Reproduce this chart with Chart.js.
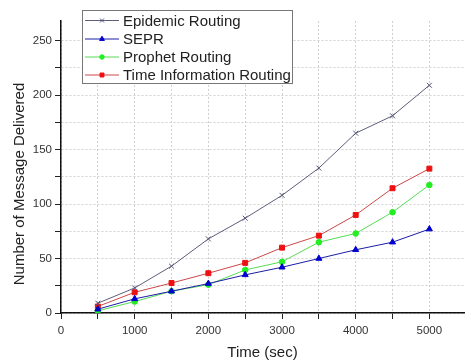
<!DOCTYPE html>
<html>
<head>
<meta charset="utf-8">
<script src="https://cdn.jsdelivr.net/npm/chart.js@4.4.0/dist/chart.umd.min.js"></script>
<style>
  body { margin: 0; background: #fff; }
  #wrap { width: 469px; height: 363px; }
</style>
</head>
<body>
<div id="wrap"><canvas id="deliveryChart" width="469" height="363"></canvas></div>
<script>
// Data
const times = [500, 1000, 1500, 2000, 2500, 3000, 3500, 4000, 4500, 5000];
const epidemic = [9, 23, 43, 68, 87, 108, 133, 165, 181, 209];
const sepr = [3.5, 13, 20, 27, 35, 42, 50, 58, 65, 77];
const prophet = [2, 10.5, 20, 26, 39.5, 47, 65, 73, 92.5, 117.5];
const timeInfo = [6, 19, 27.5, 36.5, 46, 60, 71, 90, 114.5, 132.5];
const seriesNames = ['Epidemic Routing', 'SEPR', 'Prophet Routing', 'Time Information Routing'];
// grid every 500 / 25, labels every 1000 / 50
const xGridTicks = [0, 500, 1000, 1500, 2000, 2500, 3000, 3500, 4000, 4500, 5000];
const xTickLabels = ['0', '', '1000', '', '2000', '', '3000', '', '4000', '', '5000'];
const yGridTicks = [0, 25, 50, 75, 100, 125, 150, 175, 200, 225, 250];
const yTickLabels = ['0', '', '50', '', '100', '', '150', '', '200', '', '250'];

const FONT = '"Liberation Sans", Arial, sans-serif';

function series(label, values, line, point, style, radius) {
    return {
        label: label,
        data: times.map((t, i) => ({ x: t, y: values[i] })),
        borderColor: line,
        backgroundColor: point,
        pointBackgroundColor: point,
        pointBorderColor: point,
        borderWidth: 1,
        pointStyle: style,
        pointRadius: radius,
        pointBorderWidth: 1,
        tension: 0
    };
}

// Legend box inside the plot + rotated y title
const boxLegend = {
    id: 'boxLegend',
    afterDraw(chart) {
        const ctx = chart.ctx;
        ctx.save();
        ctx.fillStyle = '#fff';
        ctx.fillRect(82, 10.5, 211, 73);
        ctx.strokeStyle = '#777';
        ctx.lineWidth = 1;
        ctx.strokeRect(82.5, 10.5, 210, 73);
        const rows = [20.5, 39, 57, 75];
        chart.data.datasets.forEach((ds, i) => {
            const y = rows[i];
            ctx.strokeStyle = ds.borderColor;
            ctx.lineWidth = 1;
            ctx.beginPath();
            ctx.moveTo(85, y);
            ctx.lineTo(119, y);
            ctx.stroke();
            ctx.fillStyle = ds.pointBackgroundColor;
            ctx.strokeStyle = ds.pointBorderColor;
            Chart.helpers.drawPoint(ctx, {
                pointStyle: ds.pointStyle,
                radius: ds.pointRadius * 0.8,
                borderWidth: 1,
                rotation: 0
            }, 102, y);
            ctx.fillStyle = '#222';
            ctx.font = '15px ' + FONT;
            ctx.textBaseline = 'middle';
            ctx.textAlign = 'left';
            ctx.fillText(ds.label, 123, y + 1);
        });

        ctx.translate(20, 184);
        ctx.rotate(-Math.PI / 2);
        ctx.fillStyle = '#222';
        ctx.font = '15px ' + FONT;
        ctx.textAlign = 'center';
        ctx.textBaseline = 'middle';
        ctx.fillText('Number of Message Delivered', 0, 0);
        ctx.restore();
    }
};

new Chart(document.getElementById('deliveryChart'), {
    type: 'line',
    data: {
        datasets: [
            series(seriesNames[0], epidemic, '#5e5e7c', '#55557a', 'crossRot', 3.5),
            series(seriesNames[1], sepr, '#1c1ca8', '#0000cc', 'triangle', 3.5),
            series(seriesNames[2], prophet, '#55dd55', '#22ee22', 'circle', 2.8),
            series(seriesNames[3], timeInfo, '#cc4848', '#ee1111', 'rect', 3.5)
        ]
    },
    options: {
        responsive: false,
        animation: false,
        layout: { padding: { top: 21, right: 0, left: 0, bottom: 0 } },
        plugins: {
            legend: { display: false },
            tooltip: { enabled: false }
        },
        scales: {
            x: {
                type: 'linear',
                min: 0,
                max: 5470,
                afterBuildTicks: scale => { scale.ticks = xGridTicks.map(v => ({ value: v })); },
                afterFit: scale => { scale.height = 50; },
                ticks: {
                    autoSkip: false,
                    maxRotation: 0,
                    minRotation: 0,
                    color: '#333',
                    font: { family: FONT, size: 11.5 },
                    padding: 5,
                    callback: (v, i) => xTickLabels[i]
                },
                grid: {
                    color: '#d0d0d0',
                    tickColor: '#222',
                    tickLength: 6,
                    tickBorderDash: []
                },
                border: { color: '#111', width: 1.5, dash: [2, 2] },
                title: {
                    display: true,
                    text: 'Time (sec)',
                    color: '#222',
                    font: { family: FONT, size: 15 },
                    padding: { top: 0, bottom: 1 }
                }
            },
            y: {
                min: 0,
                max: 268,
                afterBuildTicks: scale => { scale.ticks = yGridTicks.map(v => ({ value: v })); },
                afterFit: scale => { scale.width = 61; },
                ticks: {
                    autoSkip: false,
                    color: '#333',
                    font: { family: FONT, size: 11.5 },
                    padding: 3,
                    callback: (v, i) => yTickLabels[i]
                },
                grid: {
                    color: '#d0d0d0',
                    tickColor: '#222',
                    tickLength: 6,
                    tickBorderDash: []
                },
                border: { color: '#111', width: 1.5, dash: [2, 2] }
            }
        }
    },
    plugins: [boxLegend]
});
</script>
</body>
</html>
